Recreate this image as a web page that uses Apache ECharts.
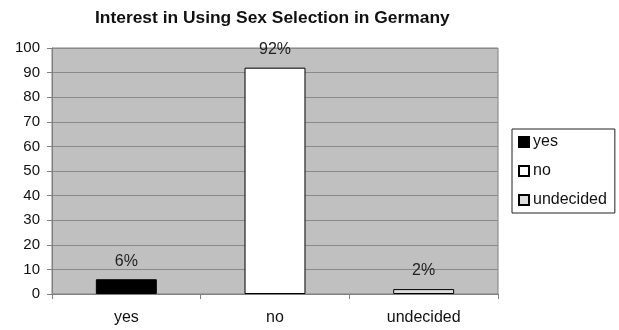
<!DOCTYPE html>
<html>
<head>
<meta charset="utf-8">
<script src="https://cdn.jsdelivr.net/npm/echarts@6/dist/echarts.min.js"></script>
<style>
  html, body { margin: 0; padding: 0; background: #fff; }
  #main { width: 619px; height: 330px; }
</style>
</head>
<body>
<div id="main"></div>
<script>
// data
const categories = ['yes', 'no', 'undecided'];
const values = [6, 92, 2];
const barColors = ['#000000', '#ffffff', '#dcdcdc'];

const myChart = echarts.init(document.getElementById('main'));
const font = 'Liberation Sans, Arial, sans-serif';

// one series per answer, stacked so each bar sits centred on its own category
const series = categories.map((name, i) => ({
  name,
  type: 'bar',
  stack: 'all',
  barWidth: '41%',
  data: categories.map((c, j) => (j === i ? values[i] : '-')),
  itemStyle: { color: barColors[i], borderColor: '#000', borderWidth: 1 },
  label: {
    show: true,
    position: 'top',
    distance: 10,
    color: '#222',
    fontFamily: font,
    fontSize: 16,
    formatter: p => `${p.value}%`
  }
}));

const option = {
  animation: false,
  title: {
    text: 'Interest in Using Sex Selection in Germany',
    left: 95,
    top: 10,
    padding: 0,
    textStyle: { fontFamily: font, fontSize: 17.4, fontWeight: 'bold', color: '#111' }
  },
  legend: {
    orient: 'vertical',
    left: 512,
    top: 129,
    padding: [5, 8, 5, 6],
    itemGap: 13,
    itemWidth: 10,
    itemHeight: 10,
    icon: 'rect',
    borderColor: '#222',
    borderWidth: 1,
    backgroundColor: '#fff',
    textStyle: { fontFamily: font, fontSize: 16, color: '#111', padding: [0, 0, 0, -1] },
    data: categories
  },
  grid: {
    left: 52,
    right: 121,
    top: 48,
    bottom: 36,
    show: true,
    backgroundColor: '#c0c0c0',
    borderColor: '#808080',
    borderWidth: 1
  },
  xAxis: {
    type: 'category',
    data: categories,
    axisLine: { lineStyle: { color: '#808080' } },
    axisTick: { show: true, length: 5, lineStyle: { color: '#808080' } },
    axisLabel: { color: '#111', fontFamily: font, fontSize: 16, margin: 16 }
  },
  yAxis: {
    type: 'value',
    min: 0,
    max: 100,
    interval: 10,
    axisLine: { show: true, lineStyle: { color: '#808080' } },
    axisTick: { show: true, length: 5, lineStyle: { color: '#808080' } },
    axisLabel: { color: '#111', fontFamily: font, fontSize: 15, margin: 12 },
    splitLine: { lineStyle: { color: '#8a8a8a' } }
  },
  series
};

myChart.setOption(option);
</script>
</body>
</html>
